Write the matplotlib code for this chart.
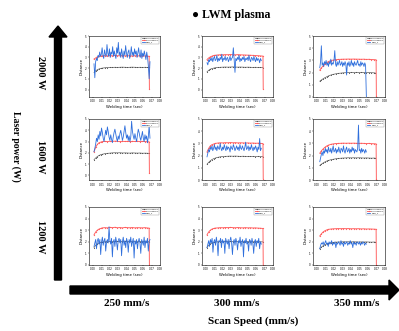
import numpy as np
import matplotlib
matplotlib.use("Agg")
import matplotlib.pyplot as plt
from matplotlib.patches import Polygon

# ---------------- data ----------------
powers = ["2000 W", "1600 W", "1200 W"]
speeds = ["250 mm/s", "300 mm/s", "350 mm/s"]
legend_labels = ["Reference 2", "Reference 1", "PMD_1"]
xticks = [0.00, 0.01, 0.02, 0.03, 0.04, 0.05, 0.06, 0.07, 0.08]
yticks = [0, 1, 2, 3, 4, 5]

# red (reference 1) sample times per scan speed
red_t_250 = [0.001,0.003,0.005,0.007,0.009,0.011,0.014,0.017,0.020,0.023,0.026,0.029,0.032,0.035,0.038,0.041,0.044,0.047,0.050,0.053,0.056,0.059,0.062,0.065,0.0670,0.0673]
red_t_300 = [0.001,0.003,0.005,0.007,0.009,0.011,0.014,0.017,0.020,0.023,0.026,0.029,0.032,0.035,0.038,0.041,0.044,0.047,0.050,0.053,0.056,0.059,0.062,0.065,0.0680,0.0683]
red_t_350 = [0.003,0.005,0.007,0.009,0.011,0.013,0.016,0.019,0.022,0.025,0.028,0.031,0.034,0.037,0.040,0.043,0.046,0.049,0.052,0.055,0.058,0.061,0.064,0.067,0.0695,0.0698]
# black (reference 2) sample times per scan speed
blk_t_250 = [0.001,0.003,0.005,0.007,0.009,0.011,0.014,0.017,0.020,0.023,0.026,0.029,0.032,0.035,0.038,0.041,0.044,0.047,0.050,0.053,0.056,0.059,0.062,0.065,0.067]
blk_t_300 = [0.001,0.003,0.005,0.007,0.009,0.011,0.014,0.017,0.020,0.023,0.026,0.029,0.032,0.035,0.038,0.041,0.044,0.047,0.050,0.053,0.056,0.059,0.062,0.065,0.068]
blk_t_350 = [0.003,0.005,0.007,0.009,0.011,0.013,0.016,0.019,0.022,0.025,0.028,0.031,0.034,0.037,0.040,0.043,0.046,0.049,0.052,0.055,0.058,0.061,0.064,0.067,0.0685]
# blue (PMD) start / end times per scan speed
blue_span_250 = (0.001, 0.068)
blue_span_300 = (0.001, 0.066)
blue_span_350 = (0.003, 0.058)

red_2000_250 = [2.85,2.95,3.05,3.1,3.12,3.15,3.16,3.14,3.17,3.15,3.18,3.16,3.15,3.17,3.14,3.16,3.15,3.13,3.16,3.14,3.15,3.13,3.14,3.12,3.1,0.05]
red_1600_250 = [2.1,2.5,2.75,2.9,2.95,3.0,3.02,3.0,3.03,3.01,3.04,3.02,3.0,3.03,3.01,3.02,3.0,3.02,3.01,3.03,3.0,3.01,3.0,2.99,2.98,0.2]
red_1200_250 = [2.6,2.85,3.0,3.1,3.15,3.2,3.22,3.2,3.24,3.22,3.25,3.21,3.23,3.2,3.24,3.22,3.21,3.23,3.2,3.22,3.21,3.2,3.22,3.19,3.18,0.0]
red_2000_300 = [2.8,2.95,3.05,3.12,3.18,3.2,3.23,3.25,3.24,3.26,3.25,3.27,3.25,3.24,3.26,3.24,3.23,3.22,3.21,3.2,3.19,3.17,3.16,3.14,3.12,0.05]
red_1600_300 = [2.3,2.6,2.8,2.9,2.95,3.0,3.03,3.05,3.04,3.06,3.05,3.07,3.05,3.06,3.04,3.05,3.04,3.03,3.04,3.02,3.03,3.01,3.02,3.0,2.99,0.1]
red_1200_300 = [2.6,2.85,3.0,3.1,3.15,3.18,3.2,3.22,3.21,3.23,3.22,3.24,3.22,3.21,3.23,3.21,3.2,3.22,3.2,3.21,3.19,3.2,3.18,3.17,3.15,0.0]
red_2000_350 = [2.2,2.4,2.55,2.7,2.8,2.9,2.98,3.03,3.06,3.08,3.09,3.1,3.1,3.11,3.1,3.11,3.1,3.1,3.09,3.1,3.08,3.09,3.07,3.06,3.05,0.05]
red_1600_350 = [2.2,2.4,2.55,2.68,2.78,2.85,2.92,2.96,2.99,3.0,3.01,3.02,3.01,3.02,3.01,3.02,3.01,3.0,3.01,3.0,2.99,3.0,2.98,2.97,2.96,0.05]
red_1200_350 = [2.5,2.7,2.85,2.95,3.02,3.07,3.1,3.12,3.13,3.14,3.13,3.14,3.13,3.14,3.12,3.13,3.12,3.13,3.11,3.12,3.1,3.11,3.1,3.09,3.08,0.0]

blk_2000_250 = [1.6,1.75,1.85,1.92,1.97,2.0,2.03,2.05,2.06,2.07,2.08,2.07,2.08,2.09,2.08,2.07,2.08,2.09,2.08,2.07,2.08,2.07,2.08,2.07,2.06]
blk_1600_250 = [1.4,1.55,1.68,1.77,1.84,1.88,1.93,1.96,1.98,2.0,2.01,2.0,2.01,1.99,2.0,1.99,1.98,2.0,1.99,1.98,1.99,1.97,1.98,1.97,1.96]
blk_1200_250 = [1.5,1.7,1.82,1.9,1.95,1.98,2.0,2.02,2.03,2.02,2.03,2.04,2.03,2.02,2.03,2.02,2.03,2.02,2.01,2.02,2.01,2.02,2.01,2.0,2.0]
blk_2000_300 = [1.65,1.8,1.9,1.96,2.0,2.03,2.06,2.08,2.09,2.1,2.09,2.1,2.11,2.1,2.09,2.1,2.09,2.08,2.09,2.08,2.07,2.08,2.07,2.06,2.05]
blk_1600_300 = [1.3,1.45,1.58,1.68,1.75,1.8,1.86,1.9,1.92,1.94,1.95,1.96,1.95,1.96,1.95,1.94,1.95,1.94,1.93,1.94,1.93,1.92,1.93,1.92,1.9]
blk_1200_300 = [1.5,1.7,1.82,1.9,1.95,1.98,2.0,2.02,2.02,2.03,2.02,2.03,2.02,2.03,2.02,2.01,2.02,2.01,2.02,2.01,2.0,2.01,2.0,2.0,1.99]
blk_2000_350 = [1.3,1.4,1.5,1.58,1.65,1.72,1.8,1.86,1.9,1.94,1.96,1.98,1.99,2.0,2.01,2.0,2.01,2.0,2.01,2.0,1.99,2.0,1.99,1.98,1.97]
blk_1600_350 = [1.2,1.3,1.4,1.48,1.55,1.6,1.66,1.7,1.74,1.77,1.79,1.8,1.81,1.82,1.81,1.82,1.81,1.82,1.81,1.8,1.81,1.8,1.79,1.8,1.79]
blk_1200_350 = [1.4,1.55,1.66,1.75,1.82,1.87,1.92,1.95,1.97,1.98,1.99,2.0,1.99,2.0,1.99,2.0,1.99,1.98,1.99,1.98,1.99,1.98,1.97,1.98,1.97]

blue_2000_250 = [2.4,1.1,2.6,2.9,2.7,3.2,3.0,3.5,3.1,3.3,3.9,3.2,2.9,3.7,3.3,3.1,4.2,3.4,3.1,3.8,3.0,3.5,3.3,4.0,3.1,3.6,3.2,2.9,3.9,3.4,4.4,3.2,3.5,3.0,3.8,3.3,2.9,3.6,3.2,4.1,3.4,3.0,3.5,3.7,2.9,3.3,4.0,3.2,3.5,3.1,3.8,3.3,3.6,3.0,3.4,3.9,3.2,3.0,3.7,2.9,3.4,3.1,3.6,3.2,2.8,3.5,3.0,2.2,1.0,2.6]
blue_1600_250 = [2.1,2.4,2.8,3.3,3.0,3.6,3.2,3.9,3.5,4.2,3.8,3.3,3.0,3.5,4.0,3.6,4.3,3.9,3.4,3.1,3.6,3.2,2.9,3.4,3.8,4.1,3.7,3.3,3.0,3.5,3.2,3.7,4.0,3.6,3.1,3.4,3.9,4.4,3.8,3.3,3.6,3.1,3.5,3.0,3.4,4.8,3.9,3.5,3.2,3.7,3.3,3.0,3.6,4.1,3.8,3.4,3.1,3.5,3.9,3.3,3.0,3.6,3.2,3.5,2.9,3.4,4.4,3.3]
blue_1200_250 = [1.6,1.9,2.2,1.4,2.1,2.3,1.8,2.2,0.9,2.0,2.4,1.7,2.1,2.3,1.2,2.0,2.2,1.9,3.3,2.1,1.8,2.3,0.7,2.0,2.2,1.6,2.4,2.0,1.3,2.1,2.3,1.9,2.2,0.8,2.0,2.4,1.7,2.1,1.5,2.3,2.0,1.1,2.2,1.9,2.4,1.6,2.0,2.3,0.6,2.1,1.8,2.2,1.4,2.0,2.3,1.9,1.0,2.2,2.0,1.7,2.4,1.5,2.1,1.9,2.3,1.2,2.0,2.2]
blue_2000_300 = [2.5,2.3,2.8,2.6,2.9,2.7,3.0,2.6,2.9,3.1,2.7,2.8,3.2,2.6,2.9,2.7,3.0,2.8,3.3,2.6,2.9,2.8,3.1,2.7,2.9,3.0,2.6,2.8,3.1,2.7,2.9,3.0,3.9,2.8,1.6,2.9,2.7,3.0,2.8,3.2,2.6,2.9,2.7,3.0,2.8,3.1,2.6,2.9,2.8,3.0,2.7,3.2,2.8,2.6,3.0,2.9,2.7,3.1,2.8,2.6,3.0,2.7,2.9,2.8,2.5,2.9,2.7]
blue_1600_300 = [1.9,2.2,2.5,2.3,2.7,2.5,2.8,2.4,2.6,2.9,2.5,2.7,2.4,2.8,2.6,2.5,3.0,2.6,2.4,2.7,2.5,2.9,2.6,2.4,2.8,2.5,2.7,2.6,2.3,2.8,2.6,2.5,2.9,2.7,2.4,2.6,2.8,2.5,2.7,2.4,2.9,2.6,2.5,2.8,2.6,2.4,2.7,3.1,2.5,2.6,2.8,2.4,2.7,2.5,2.9,2.6,2.4,2.7,2.5,2.8,2.6,2.3,2.7,2.5,3.4,2.4,2.6]
blue_1200_300 = [1.5,1.8,2.1,1.6,2.2,1.9,2.3,1.1,2.0,2.2,1.7,2.4,1.9,0.8,2.1,2.0,2.3,1.5,2.2,1.9,2.1,1.0,2.3,2.0,1.8,2.2,1.4,2.1,2.4,1.9,0.9,2.0,2.2,1.7,2.3,2.0,1.3,2.1,1.9,2.4,1.6,2.0,2.2,0.7,2.1,1.9,2.3,1.8,2.0,1.2,2.2,2.1,1.7,2.3,1.9,1.0,2.0,2.2,1.6,2.1,1.9,2.3,1.4,2.0,1.8]
blue_2000_350 = [2.4,2.9,4.2,2.6,2.8,2.5,2.9,2.7,3.0,2.6,2.8,2.5,2.9,2.7,3.1,2.6,2.8,2.7,3.0,3.8,2.7,2.5,2.9,2.6,2.8,3.0,2.6,2.7,2.9,2.5,2.8,2.6,2.9,2.7,1.8,2.8,2.6,2.9,2.5,2.7,3.0,2.6,2.8,2.5,2.9,2.7,2.6,2.8,3.0,2.6,2.7,2.5,2.9,2.6,2.8,2.7,2.5,2.8,2.6,0.0]
blue_1600_350 = [1.5,1.8,2.1,2.3,2.0,2.4,2.2,2.6,2.3,2.5,2.2,2.7,2.4,2.3,2.6,2.2,2.5,2.8,2.3,2.4,2.6,2.2,2.5,2.3,2.7,2.4,2.2,2.6,2.5,2.3,2.8,2.4,2.2,2.5,2.7,2.3,2.4,2.6,2.2,2.5,2.3,2.7,2.4,2.6,2.2,2.5,2.4,2.3,2.6,4.5,2.4,2.5,2.2,2.6,2.3,2.5,2.4,2.2,2.5,2.3]
blue_1200_350 = [1.4,1.7,1.9,1.8,2.0,1.7,1.9,2.1,1.8,1.9,1.6,2.0,1.8,1.9,2.1,1.7,1.9,1.8,2.0,1.5,1.9,1.8,2.0,1.9,1.7,2.1,1.8,1.9,1.6,2.0,1.8,1.9,2.0,1.7,1.9,1.8,2.1,1.8,1.9,1.5,2.0,1.8,1.9,1.7,2.0,1.9,1.8,2.0,1.7,1.9,1.8,2.0,1.9,1.7,1.9,1.8]

# ---------------- figure ----------------
W, H = 399, 331
fig = plt.figure(figsize=(W / 100, H / 100), dpi=100)
fig.patch.set_facecolor("white")
serif = ["Liberation Serif", "DejaVu Serif"]

bg = fig.add_axes([0, 0, 1, 1])
bg.set_xlim(0, W)
bg.set_ylim(H, 0)
bg.axis("off")

# vertical arrow (laser power)
bg.add_patch(Polygon([(54.5, 280), (61.5, 280), (61.5, 37), (67, 37), (58, 26),
                      (49, 37), (54.5, 37)], closed=True, color="black"))
# horizontal arrow (scan speed)
bg.add_patch(Polygon([(70, 286), (70, 294), (389, 294), (389, 300), (399, 290),
                      (389, 280), (389, 286)], closed=True, color="black"))

bg.text(231, 15, "● LWM plasma", ha="center", va="center", fontsize=8.5,
        fontweight="bold", family=["Liberation Serif", "DejaVu Sans"])
row_y = [73, 157, 237]
for lab, yy in zip(powers, row_y):
    bg.text(41, yy, lab, rotation=270, ha="center", va="center", fontsize=7.5,
            fontweight="bold", family=serif)
bg.text(16, 146, "Laser power (W)", rotation=270, ha="center", va="center",
        fontsize=7, fontweight="bold", family=serif)
col_x = [127, 237, 357]
for lab, xx in zip(speeds, col_x):
    bg.text(xx, 304, lab, ha="center", va="center", fontsize=8,
            fontweight="bold", family=serif)
bg.text(253, 321, "Scan Speed (mm/s)", ha="center", va="center", fontsize=8,
        fontweight="bold", family=serif)

rows_px = [(36, 97), (119, 180), (207, 265)]
cols_px = [(89, 160), (202, 273), (313, 385)]
ylims = [[(-0.7, 5), (-0.7, 5), (0, 5)],
         [(-0.4, 5), (0, 5), (0, 5)],
         [(0, 5), (0, 5), (0, 5)]]

red_t = [red_t_250, red_t_300, red_t_350]
blk_t = [blk_t_250, blk_t_300, blk_t_350]
blue_span = [blue_span_250, blue_span_300, blue_span_350]
red_v = [[red_2000_250, red_2000_300, red_2000_350],
         [red_1600_250, red_1600_300, red_1600_350],
         [red_1200_250, red_1200_300, red_1200_350]]
blk_v = [[blk_2000_250, blk_2000_300, blk_2000_350],
         [blk_1600_250, blk_1600_300, blk_1600_350],
         [blk_1200_250, blk_1200_300, blk_1200_350]]
blue_v = [[blue_2000_250, blue_2000_300, blue_2000_350],
          [blue_1600_250, blue_1600_300, blue_1600_350],
          [blue_1200_250, blue_1200_300, blue_1200_350]]

for i, (top, bot) in enumerate(rows_px):
    for j, (left, right) in enumerate(cols_px):
        ax = fig.add_axes([left / W, 1 - bot / H, (right - left) / W, (bot - top) / H])
        bt = np.linspace(blue_span[j][0], blue_span[j][1], len(blue_v[i][j]))
        ax.plot(blk_t[j], blk_v[i][j], color="#4a4a4a", lw=0.45, marker="o",
                ms=0.6, mew=0.2, label=legend_labels[0])
        ax.plot(red_t[j], red_v[i][j], color="#ff5a5a", lw=0.65, marker="o",
                ms=0.7, mew=0.2, label=legend_labels[1])
        ax.plot(bt, blue_v[i][j], color="#2f6fdc", lw=0.6, label=legend_labels[2])
        ax.set_xlim(-0.005, 0.08)
        ax.set_ylim(*ylims[i][j])
        ax.set_xticks(xticks)
        ax.set_xticklabels([f"{v:.2f}" for v in xticks])
        ax.set_yticks(yticks)
        ax.tick_params(labelsize=2.0, length=1, width=0.3, pad=0.8)
        for s in ax.spines.values():
            s.set_linewidth(0.4)
        ax.set_xlabel("Welding time (sec)", fontsize=2.8, labelpad=1)
        ax.set_ylabel("Distance", fontsize=2.8, labelpad=1)
        leg = ax.legend(loc="upper right", fontsize=1.5, handlelength=1.8,
                        borderpad=0.3, labelspacing=0.2, handletextpad=0.4,
                        framealpha=1, fancybox=False, edgecolor="#999999",
                        borderaxespad=0.3)
        leg.get_frame().set_linewidth(0.3)

fig.savefig("out.png", dpi=100)
